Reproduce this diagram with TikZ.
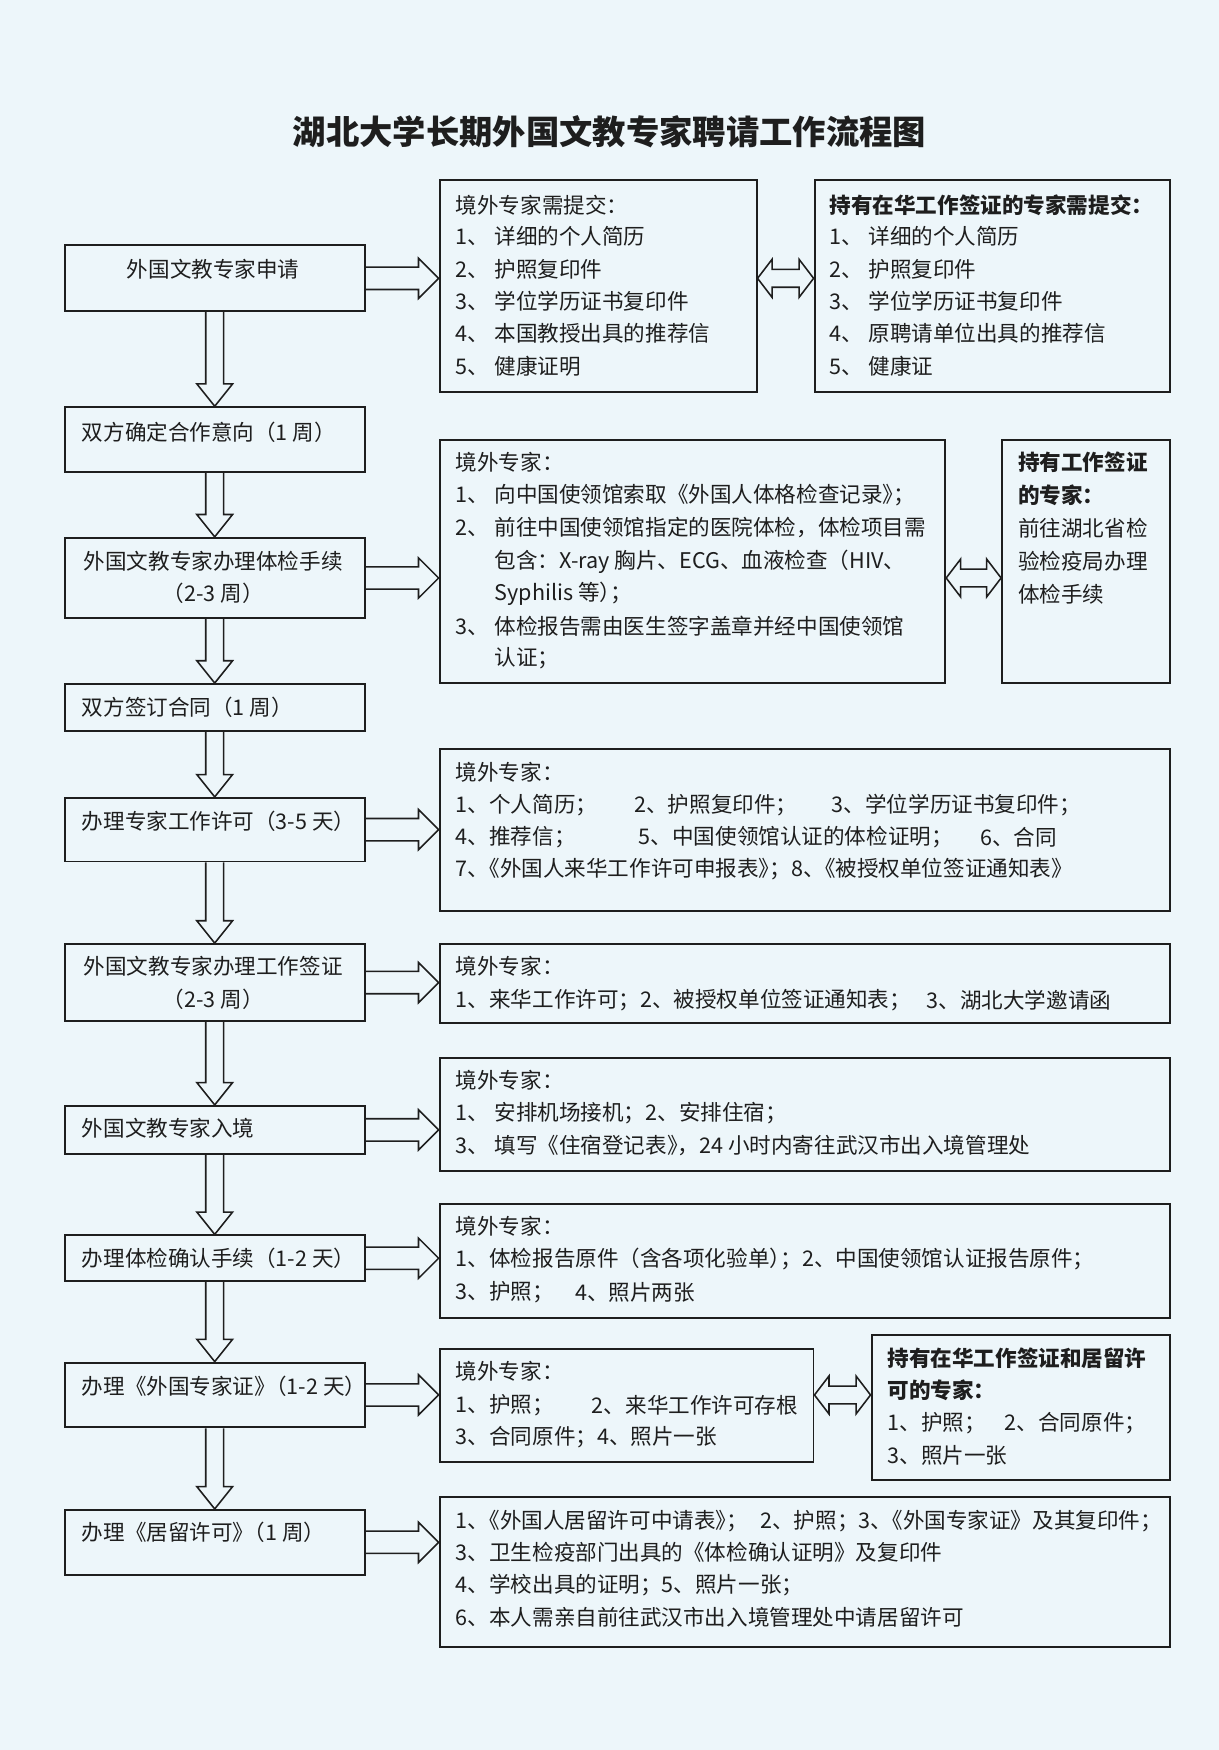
\documentclass[tikz,border=0pt]{standalone}
\usepackage{fontspec}
\setmainfont{Noto Sans CJK SC}
\usepackage{tikz}
\usetikzlibrary{calc}
\definecolor{scanblue}{RGB}{237,246,250}
\definecolor{ink}{RGB}{30,30,30}
\def\itm#1{\makebox[1.8em][l]{#1、}}
\tikzstyle{txt} = [anchor=west, inner sep=0pt, text=ink, font=\fontsize{11}{13}\selectfont]
\tikzstyle{hd} = [txt, font=\fontsize{11}{13}\selectfont\bfseries]
\tikzstyle{ctr} = [txt, anchor=center]
\tikzstyle{blk} = [draw=ink, line width=0.8pt, line join=miter]
\tikzset{bx/.style 2 args={draw=ink, line width=1pt, inner sep=0pt, anchor=north west, minimum width=#1*0.02cm, minimum height=#2*0.02cm}}
\def\downarr(#1,#2){\draw[blk] ($(#1.south)+(-8,0)$) -- ($(#2.north)+(-8,-20)$) -- ++(-8,0) -- (#2.north) -- ++(16,-20) -- ++(-8,0) -- ($(#1.south)+(8,0)$);}
\def\rightarr(#1,#2){\draw[blk] ($(#1.east)+(0,-10)$) -- ($(#2.west |- #1.east)+(-18,-10)$) -- ++(0,-8) -- (#2.west |- #1.east) -- ++(-18,18) -- ++(0,-8) -- ($(#1.east)+(0,10)$);}
\def\dblarr(#1,#2,#3){\draw[blk] (#1.east |- #3.east) -- ++(13,-17) -- ++(0,9) -- ($(#2.west |- #3.east)+(-13,-8)$) -- ++(0,-9) -- (#2.west |- #3.east) -- ++(-13,17) -- ++(0,-9) -- ($(#1.east |- #3.east)+(13,8)$) -- ++(0,9) -- cycle;}
\begin{document}
\begin{tikzpicture}[x=0.02cm,y=-0.02cm]
\path[fill=scanblue,use as bounding box] (0,0) rectangle (1092,1568);
\node[font=\fontsize{17}{20}\selectfont\bfseries, text=ink] (title) at (546,118) {湖北大学长期外国文教专家聘请工作流程图};
% left column
\node[bx={269}{59}] (s1) at (57,219) {};
\node[bx={269}{58}] (s2) at (57,364) {};
\node[bx={269}{72}] (s3) at (57,481) {};
\node[bx={269}{42}] (s4) at (57,612) {};
\node[bx={269}{57}] (s5) at (57,714) {};
\node[bx={269}{69}] (s6) at (57,845) {};
\node[bx={269}{43}] (s7) at (57,990) {};
\node[bx={269}{41}] (s8) at (57,1106) {};
\node[bx={269}{58}] (s9) at (57,1220) {};
\node[bx={269}{58}] (s10) at (57,1352) {};
\node[ctr] (s1t) at (191,241) {外国文教专家申请};
\node[txt] (s2t) at (73,387) {双方确定合作意向（1 周）};
\node[ctr] (s3t) at (191,503) {外国文教专家办理体检手续};
\node[ctr] (s3u) at (191,532) {（2-3 周）};
\node[txt] (s4t) at (73,634) {双方签订合同（1 周）};
\node[txt] (s5t) at (73,736) {办理专家工作许可（3-5 天）};
\node[ctr] (s6t) at (191,866) {外国文教专家办理工作签证};
\node[ctr] (s6u) at (191,895) {（2-3 周）};
\node[txt] (s7t) at (73,1011) {外国文教专家入境};
\node[txt] (s8t) at (73,1127) {办理体检确认手续（1-2 天）};
\node[txt] (s9t) at (73,1242) {办理《外国专家证》\kern-.5em（1-2 天）};
\node[txt] (s10t) at (73,1373) {办理《居留许可》\kern-.5em（1 周）};
\foreach \a/\b in {s1/s2,s2/s3,s3/s4,s4/s5,s5/s6,s6/s7,s7/s8,s8/s9,s9/s10}
  \downarr(\a,\b)
% right column
\node[bx={284}{190}] (r1) at (393,160) {};
\node[bx={318}{190}] (r1b) at (729,160) {};
\node[bx={453}{218}] (r2) at (393,393) {};
\node[bx={150}{218}] (r2b) at (897,393) {};
\node[bx={654}{145}] (r3) at (393,670) {};
\node[bx={654}{71}] (r4) at (393,845) {};
\node[bx={654}{101}] (r5) at (393,947) {};
\node[bx={654}{102}] (r6) at (393,1078) {};
\node[bx={335}{101}] (r7) at (393,1208) {};
\node[bx={267}{130}] (r7b) at (780,1195) {};
\node[bx={654}{135}] (r8) at (393,1340) {};
\rightarr(s1,r1)
\rightarr(s3,r2)
\rightarr(s5,r3)
\rightarr(s6,r4)
\rightarr(s7,r5)
\rightarr(s8,r6)
\rightarr(s9,r7)
\rightarr(s10,r8)
\dblarr(r1,r1b,s1)
\dblarr(r2,r2b,s3)
\dblarr(r7,r7b,s9)
% r1, r1b
\node[txt] (r1h) at (408,184) {境外专家需提交：};
\foreach \t [count=\i] in {详细的个人简历,护照复印件,学位学历证书复印件,本国教授出具的推荐信,健康证明}
  \node[txt] (r1l\i) at (408,183+29*\i) {\itm{\i}\t};
\node[hd] (r1bh) at (743,184) {持有在华工作签证的专家需提交：};
\foreach \t [count=\i] in {详细的个人简历,护照复印件,学位学历证书复印件,原聘请单位出具的推荐信,健康证}
  \node[txt] (r1bl\i) at (743,183+29*\i) {\itm{\i}\t};
% r2, r2b
\node[txt] (r2h) at (408,414) {境外专家：};
\node[txt] (r2l1) at (408,444) {\itm{1}向中国使领馆索取《外国人体格检查记录》\kern-.5em；};
\node[txt] (r2l2) at (408,473) {\itm{2}前往中国使领馆指定的医院体检，体检项目需};
\node[txt] (r2l3) at (443,503) {包含：X-ray 胸片、ECG、血液检查（HIV、};
\node[txt] (r2l4) at (443,532) {Syphilis 等）\kern-.5em；};
\node[txt] (r2l5) at (408,561) {\itm{3}体检报告需由医生签字盖章并经中国使领馆};
\node[txt] (r2l6) at (443,590) {认证；};
\node[hd] (r2bh1) at (912,414) {持有工作签证};
\node[hd] (r2bh2) at (912,444) {的专家：};
\node[txt] (r2bl1) at (912,473) {前往湖北省检};
\node[txt] (r2bl2) at (912,503) {验检疫局办理};
\node[txt] (r2bl3) at (912,532) {体检手续};
% r3
\node[txt] (r3h) at (408,692) {境外专家：};
\node[txt] (r3l1) at (408,721) {1、个人简历；};
\node[txt] (r3l2) at (568,721) {2、护照复印件；};
\node[txt] (r3l3) at (745,721) {3、学位学历证书复印件；};
\node[txt] (r3l4) at (408,750) {4、推荐信；};
\node[txt] (r3l5) at (572,750) {5、中国使领馆认证的体检证明；};
\node[txt] (r3l6) at (878,750) {6、合同};
\node[txt] (r3l7) at (408,779) {7、\kern-.5em《外国人来华工作许可申报表》\kern-.5em；8、\kern-.5em《被授权单位签证通知表》};
% r4
\node[txt] (r4h) at (408,866) {境外专家：};
\node[txt] (r4l1) at (408,896) {1、来华工作许可；2、被授权单位签证通知表；};
\node[txt] (r4l2) at (830,896) {3、湖北大学邀请函};
% r5
\node[txt] (r5h) at (408,968) {境外专家：};
\node[txt] (r5l1) at (408,997) {\itm{1}安排机场接机；2、安排住宿；};
\node[txt] (r5l2) at (408,1026) {\itm{3}填写《住宿登记表》\kern-.5em，24 小时内寄往武汉市出入境管理处};
% r6
\node[txt] (r6h) at (408,1099) {境外专家：};
\node[txt] (r6l1) at (408,1128) {1、体检报告原件（含各项化验单）\kern-.5em；2、中国使领馆认证报告原件；};
\node[txt] (r6l2) at (408,1158) {3、护照；};
\node[txt] (r6l3) at (515,1158) {4、照片两张};
% r7, r7b
\node[txt] (r7h) at (408,1229) {境外专家：};
\node[txt] (r7l1) at (408,1259) {1、护照；};
\node[txt] (r7l2) at (530,1259) {2、来华工作许可存根};
\node[txt] (r7l3) at (408,1288) {3、合同原件；4、照片一张};
\node[hd] (r7bh1) at (795,1217) {持有在华工作签证和居留许};
\node[hd] (r7bh2) at (795,1246) {可的专家：};
\node[txt] (r7bl1) at (795,1275) {1、护照；};
\node[txt] (r7bl2) at (900,1275) {2、合同原件；};
\node[txt] (r7bl3) at (795,1304) {3、照片一张};
% r8
\node[txt] (r8l1) at (408,1363) {1、\kern-.5em《外国人居留许可中请表》\kern-.5em；};
\node[txt] (r8l2) at (681,1363) {2、护照；3、\kern-.5em《外国专家证》及其复印件；};
\node[txt] (r8l3) at (408,1391) {3、卫生检疫部门出具的《体检确认证明》及复印件};
\node[txt] (r8l4) at (408,1420) {4、学校出具的证明；5、照片一张；};
\node[txt] (r8l5) at (408,1449) {6、本人需亲自前往武汉市出入境管理处中请居留许可};
\end{tikzpicture}
\end{document}
